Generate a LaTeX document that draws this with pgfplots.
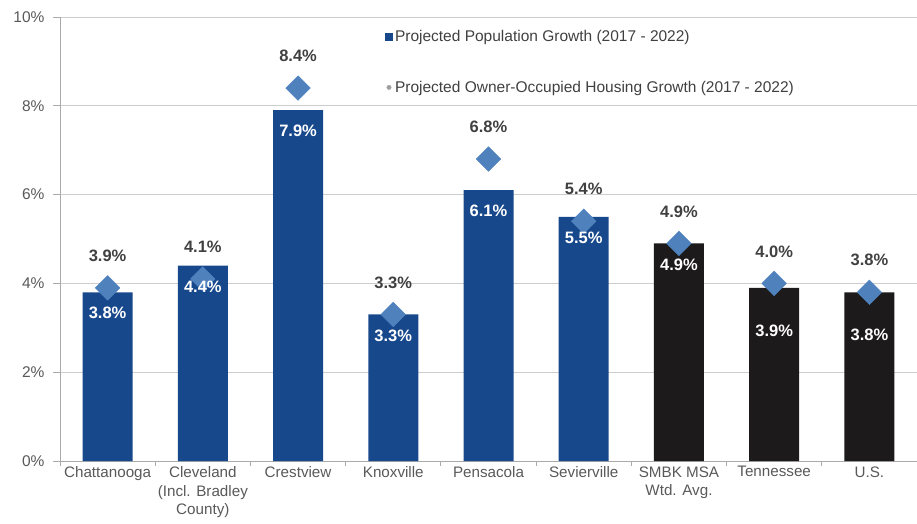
\documentclass[border=0pt]{standalone}
\usepackage{fontspec}
\setmainfont{Liberation Sans}
\usepackage{pgfplots}
\pgfplotsset{compat=1.18}

\definecolor{popblue}{RGB}{24,72,140}
\definecolor{avgblack}{RGB}{28,26,26}
\definecolor{ownblue}{RGB}{79,129,189}
\definecolor{txtgray}{RGB}{64,64,64}
\definecolor{tickgray}{RGB}{89,89,89}
\definecolor{gridgray}{RGB}{205,205,205}
\definecolor{axisgray}{RGB}{170,170,170}

\begin{document}
\begin{tikzpicture}
\begin{axis}[
    scale only axis,
    width=857pt, height=444pt,
    xmin=-0.5, xmax=8.5, ymin=0, ymax=10,
    axis x line*=bottom, axis y line*=left,
    axis line style={draw=axisgray, line width=0.9pt, -},
    tick align=outside,
    xtick={0,...,8},
    xticklabels={Chattanooga, {Cleveland\\(Incl. Bradley\\County)}, Crestview, Knoxville, Pensacola, Sevierville, {SMBK MSA\\Wtd. Avg.}, Tennessee, U.S.},
    minor xtick={-0.5,0.5,...,8.5},
    major x tick style={draw=none},
    minor x tick style={draw=axisgray, line width=0.9pt},
    minor tick length=5pt,
    ytick={0,2,...,10},
    yticklabel={\pgfmathprintnumber{\tick}\%},
    major y tick style={draw=axisgray, line width=0.9pt},
    major tick length=7pt,
    ymajorgrids,
    grid style={draw=gridgray, line width=0.9pt},
    /pgf/number format/assume math mode=true,
    yticklabel style={font=\fontsize{15.5}{18.5}\selectfont, text=tickgray, xshift=-5pt},
    xticklabel style={font=\fontsize{15.2}{18.5}\selectfont, text=tickgray, align=center, anchor=north, yshift=5pt},
    legend style={at={(0.379,0.975)}, anchor=north west, draw=none, fill=none,
        font=\fontsize{15.5}{18.5}\selectfont, text=txtgray, row sep=34pt, inner sep=0pt},
    legend cell align=left,
]
\addplot[ybar, bar width=50pt, bar shift=0pt, fill=popblue, draw=none,
    legend image code/.code={\fill[popblue] (0pt,-4pt) rectangle (8pt,4pt);}]
    coordinates {(0,3.8) (1,4.4) (2,7.9) (3,3.3) (4,6.1) (5,5.5)};
\addlegendentry{Projected Population Growth (2017 - 2022)}
\addplot[ybar, bar width=50pt, bar shift=0pt, fill=avgblack, draw=none, forget plot]
    coordinates {(6,4.9) (7,3.9) (8,3.8)};
\addplot[only marks, mark=square*, mark size=8.7pt, color=ownblue,
    every mark/.append style={rotate=45},
    legend image code/.code={\fill[gray!75] (4pt,0pt) circle (2.2pt);},
    nodes near coords={\pgfmathprintnumber[fixed,fixed zerofill,precision=1]{\pgfplotspointmeta}\%},
    every node near coord/.append style={anchor=center, yshift=32pt, text=txtgray,
        font=\fontsize{16.5}{18}\selectfont\bfseries}]
    coordinates {(0,3.9) (1,4.1) (2,8.4) (3,3.3) (4,6.8) (5,5.4) (6,4.9) (7,4.0) (8,3.8)};
\addlegendentry{Projected Owner-Occupied Housing Growth (2017 - 2022)}
% bar value labels, drawn last so they sit over the diamonds
\addplot[draw=none, forget plot,
    nodes near coords={\pgfmathprintnumber[fixed,fixed zerofill,precision=1]{\pgfplotspointmeta}\%},
    every node near coord/.append style={anchor=center, yshift=-21pt, text=white,
        font=\fontsize{16.5}{18}\selectfont\bfseries}]
    coordinates {(0,3.8) (1,4.4) (2,7.9) (3,3.3) (4,6.1) (5,5.5) (6,4.9)};
\addplot[draw=none, forget plot,
    nodes near coords={\pgfmathprintnumber[fixed,fixed zerofill,precision=1]{\pgfplotspointmeta}\%},
    every node near coord/.append style={anchor=center, yshift=-43pt, text=white,
        font=\fontsize{16.5}{18}\selectfont\bfseries}]
    coordinates {(7,3.9) (8,3.8)};
\end{axis}
\pgfresetboundingbox
\path ([shift={(-60pt,-62pt)}]current axis.south west) rectangle ([shift={(0pt,17pt)}]current axis.north east);
\end{tikzpicture}
\end{document}
